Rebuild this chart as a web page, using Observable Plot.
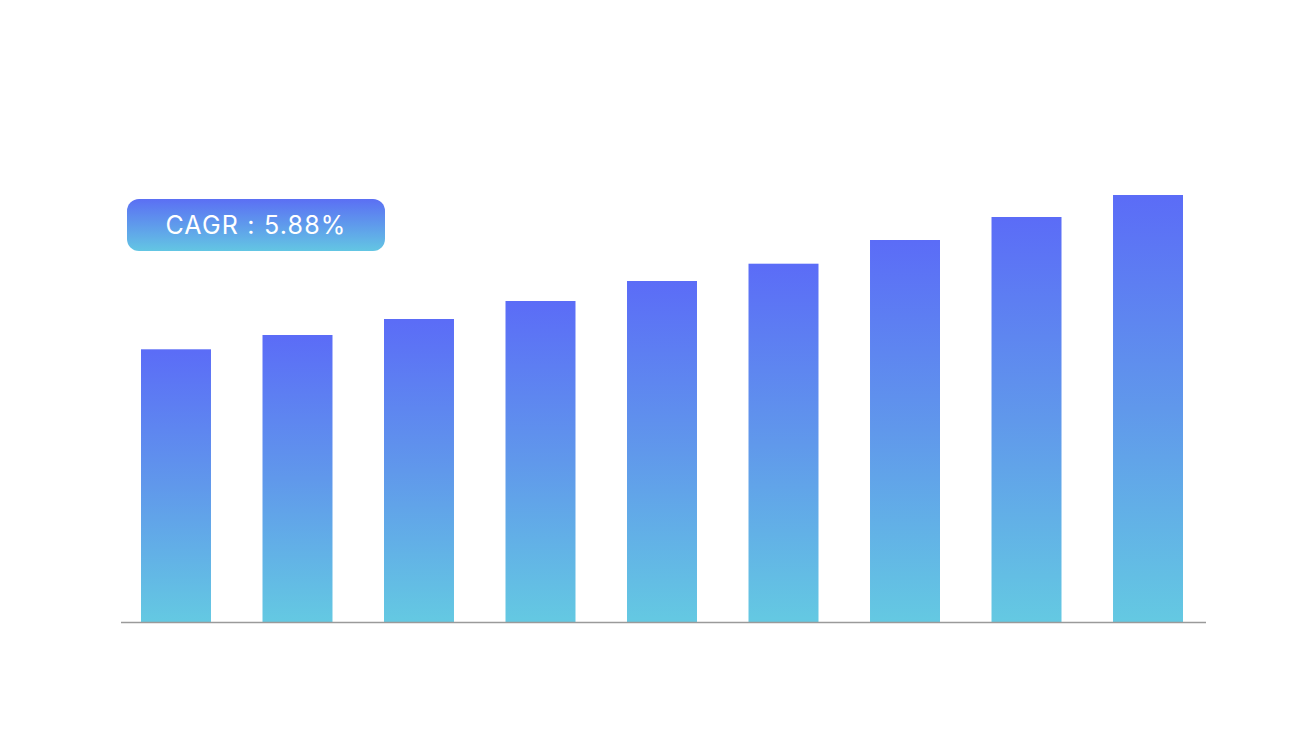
<!DOCTYPE html>
<html>
<head>
<meta charset="utf-8">
<script src="https://cdn.jsdelivr.net/npm/d3@7"></script>
<script src="https://cdn.jsdelivr.net/npm/@observablehq/plot@0.6"></script>
<style>
  html, body { margin: 0; padding: 0; background: #ffffff; }
  #wrap { position: relative; width: 1293px; height: 738px; overflow: hidden; }
  #cagr {
    position: absolute; left: 127px; top: 199px; width: 258px; height: 52px;
    border-radius: 12px;
    background: linear-gradient(to bottom, #5b6ff4, #63c6e3);
    color: #ffffff; font-family: Inter, "Open Sans", sans-serif; font-size: 25px; font-weight: 400;
    display: flex; align-items: center; justify-content: center; letter-spacing: 1.2px;
  }
</style>
</head>
<body>
<div id="wrap"></div>
<script>
const periods = ["P1", "P2", "P3", "P4", "P5", "P6", "P7", "P8", "P9"];
const values = [272.7, 287, 303, 321, 341, 358.3, 382, 405, 427];
const cagrLabel = "CAGR : 5.88%";

const data = periods.map((p, i) => ({period: p, value: values[i]}));

const defs = () => {
  const g = d3.create("svg:defs");
  const lg = g.append("linearGradient").attr("id", "barGrad")
    .attr("x1", 0).attr("y1", 0).attr("x2", 0).attr("y2", 1);
  lg.append("stop").attr("offset", "0%").attr("stop-color", "#5b6cf7");
  lg.append("stop").attr("offset", "50%").attr("stop-color", "#6098eb");
  lg.append("stop").attr("offset", "100%").attr("stop-color", "#64c9e2");
  return g.node();
};

const chart = Plot.plot({
  width: 1293,
  height: 738,
  marginLeft: 121,
  marginRight: 87,
  marginTop: 172,
  marginBottom: 116,
  style: {background: "#ffffff"},
  x: {domain: periods, range: [141, 1183], paddingInner: 0.424, paddingOuter: 0, round: false, axis: null},
  y: {domain: [0, 450], range: [622, 172], axis: null},
  marks: [
    defs,
    Plot.barY(data, {x: "period", y: "value", fill: "url(#barGrad)"}),
    Plot.ruleY([0], {stroke: "#9a9a9a", strokeWidth: 1.6})
  ]
});

const wrap = document.getElementById("wrap");
wrap.appendChild(chart);
const label = document.createElement("div");
label.id = "cagr";
label.textContent = cagrLabel;
wrap.appendChild(label);
</script>
</body>
</html>
